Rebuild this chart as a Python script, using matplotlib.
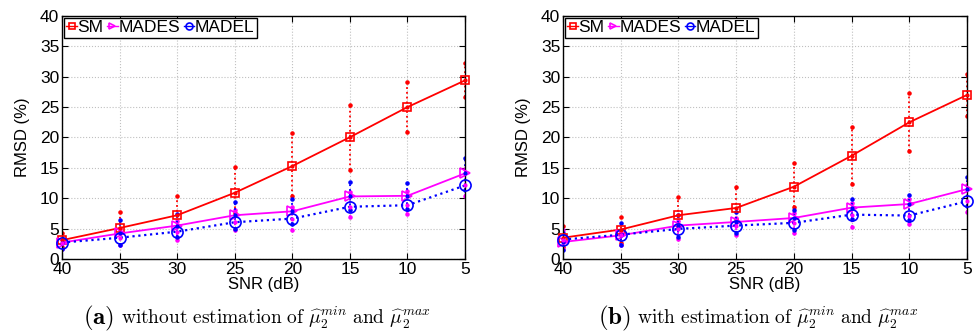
import numpy as np
import matplotlib
matplotlib.use("Agg")
import matplotlib.pyplot as plt

snr = [40, 35, 30, 25, 20, 15, 10, 5]

# Panel (a): without estimation
a_sm = [3.1, 5.1, 7.2, 10.9, 15.3, 20.05, 25.0, 29.4]
a_sm_lo = [2.0, 4.2, 5.5, 7.5, 10.3, 14.6, 20.9, 26.6]
a_sm_hi = [4.3, 7.75, 10.3, 15.1, 20.7, 25.4, 29.1, 32.2]
a_mades = [2.7, 4.2, 5.5, 7.2, 7.85, 10.3, 10.4, 14.1]
a_mades_lo = [1.7, 2.3, 3.1, 4.7, 4.8, 6.9, 7.4, 10.3]
a_mades_hi = [3.3, 4.9, 6.2, 8.0, 8.6, 11.0, 11.2, 14.8]
a_madel = [2.7, 3.5, 4.5, 6.05, 6.65, 8.6, 8.85, 12.1]
a_madel_lo = [1.7, 2.3, 3.6, 5.0, 5.7, 8.0, 8.2, 11.4]
a_madel_hi = [3.5, 6.4, 7.4, 9.3, 9.95, 12.6, 12.5, 16.6]

# Panel (b): with estimation
b_sm = [3.5, 4.85, 7.2, 8.4, 11.9, 17.0, 22.5, 27.0]
b_sm_lo = [2.0, 2.7, 5.5, 6.5, 8.5, 12.3, 17.8, 23.5]
b_sm_hi = [5.5, 6.9, 10.2, 11.9, 15.8, 21.8, 27.4, 30.5]
b_mades = [2.8, 3.9, 5.5, 6.1, 6.75, 8.45, 9.05, 11.5]
b_mades_lo = [1.7, 2.3, 3.3, 3.9, 4.35, 5.3, 5.8, 7.8]
b_mades_hi = [4.8, 4.5, 6.2, 6.8, 7.5, 9.2, 9.8, 12.2]
b_madel = [3.2, 4.0, 4.95, 5.5, 5.95, 7.3, 7.15, 9.5]
b_madel_lo = [1.55, 2.3, 3.6, 4.2, 4.7, 6.6, 6.4, 8.8]
b_madel_hi = [4.3, 5.9, 7.3, 7.7, 8.1, 9.8, 10.5, 13.5]

labels = ["SM", "MADES", "MADEL"]
captions = [("(a)", r"$\mathrm{without\ estimation\ of\ }\widehat{\mu}_2^{min}\mathrm{\ and\ }\widehat{\mu}_2^{max}$"),
            ("(b)", r"$\mathrm{with\ estimation\ of\ }\widehat{\mu}_2^{min}\mathrm{\ and\ }\widehat{\mu}_2^{max}$")]

plt.rcParams['font.family'] = ['Liberation Sans', 'DejaVu Sans']
plt.rcParams['mathtext.fontset'] = 'cm'

fig = plt.figure(figsize=(9.77, 3.35), dpi=100)
ax_pos = [[0.0635, 0.2269, 0.4125, 0.7254], [0.5763, 0.2269, 0.4135, 0.7254]]

colors = ['#ff0000', '#ff00ff', '#0000ff']
center_dot_colors = ['#ff0000', '#0000ff', '#ff00ff']
markers = ['s', '>', 'o']
msizes = [5.8, 7, 8]
lstyles = ['-', '-', ':']

panels = [
    [(a_sm, a_sm_lo, a_sm_hi), (a_mades, a_mades_lo, a_mades_hi), (a_madel, a_madel_lo, a_madel_hi)],
    [(b_sm, b_sm_lo, b_sm_hi), (b_mades, b_mades_lo, b_mades_hi), (b_madel, b_madel_lo, b_madel_hi)],
]

for p, (pos, series) in enumerate(zip(ax_pos, panels)):
    ax = fig.add_axes(pos)
    x = np.array(snr)
    for i, (vals, lo, hi) in enumerate(series):
        v = np.array(vals)
        lo = np.array(lo)
        hi = np.array(hi)
        eb = ax.errorbar(x, v, yerr=[v - lo, hi - v], fmt='none', ecolor=colors[i],
                         elinewidth=1.3, capsize=0, zorder=2)
        eb[2][0].set_linestyle(':')
        ax.plot(x, hi, '.', color=colors[i], ms=4.5, zorder=2)
        ax.plot(x, lo, '.', color=colors[i], ms=4.5, zorder=2)
    for i, (vals, lo, hi) in enumerate(series):
        v = np.array(vals)
        ax.plot(x, v, linestyle=lstyles[i], marker=markers[i], color=colors[i],
                mfc='none', mec=colors[i], ms=msizes[i], lw=1.3 if i < 2 else 1.6,
                mew=1.2, zorder=4, clip_on=False)
    for i, (vals, lo, hi) in enumerate(series):
        ax.plot(x, vals, '.', color=center_dot_colors[i], ms=4, zorder=5, clip_on=False)
    ax.set_xlim(40, 5)
    ax.set_ylim(0, 40)
    ax.set_xticks(snr)
    ax.set_yticks(range(0, 41, 5))
    ax.tick_params(direction='in', top=True, right=True, labelsize=12.5, length=4, width=0.8, pad=2)
    ax.grid(True, linestyle=':', color='#c0c0c0', linewidth=0.8)
    for sp in ax.spines.values():
        sp.set_linewidth(1.0)
    ax.set_xlabel('SNR (dB)', fontsize=12, labelpad=0)
    ax.set_ylabel('RMSD (%)', fontsize=12, labelpad=7)
    leg_handles = []
    for i in range(3):
        lh, = ax.plot([], [], linestyle='-', marker=markers[i], color=colors[i], mfc='none',
                      mec=colors[i], ms=5, lw=1.0, mew=1.2)
        leg_handles.append(lh)
    leg = ax.legend(leg_handles, labels, loc='upper left', ncol=3, fontsize=12.5,
                    handlelength=0.6, handletextpad=0.05, columnspacing=0.2,
                    borderpad=0.15, borderaxespad=0.1, fancybox=False,
                    edgecolor='black', framealpha=1)
    leg.get_frame().set_linewidth(1.0)
    # caption
    cx = pos[0] + pos[2] / 2 - 0.007
    tag, rest = captions[p]
    t1 = fig.text(cx, 0.05, r'$\mathbf{' + tag + '}$', ha='left', va='center', fontsize=18)
    t2 = fig.text(cx, 0.05, rest, ha='left', va='center', fontsize=14)
    fig.canvas.draw()
    r = fig.canvas.get_renderer()
    w1 = t1.get_window_extent(r).width / fig.bbox.width
    w2 = t2.get_window_extent(r).width / fig.bbox.width
    gap = 0.007
    total = w1 + gap + w2
    start = cx - total / 2
    t1.set_x(start)
    t2.set_x(start + w1 + gap)

fig.savefig('out.png', dpi=100)
